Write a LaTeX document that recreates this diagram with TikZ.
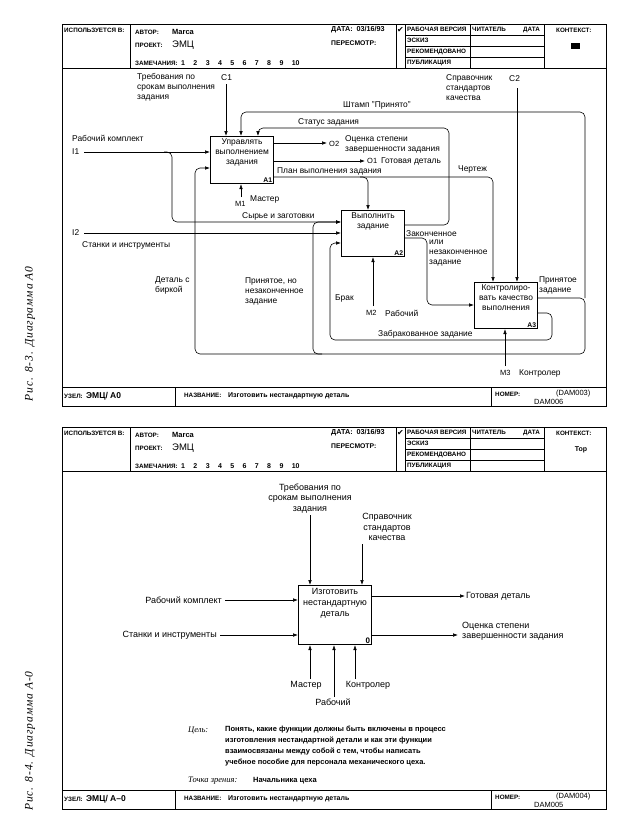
\documentclass[tikz,border=0pt]{standalone}
\usepackage{fontspec}
\setmainfont{Liberation Sans}
\newfontfamily\captfont{Liberation Serif}[LetterSpace=8]
\newfontfamily\notefont{Liberation Serif}
\newfontfamily\symfont{DejaVu Sans}
\usetikzlibrary{positioning}
\usetikzlibrary{arrows.meta}

\begin{document}
\begin{tikzpicture}[x=1pt,y=-1pt,>={Latex[length=5pt,width=3.6pt]}]
\tikzstyle{func}=[rectangle,draw,line width=1.1pt,anchor=north west,inner sep=0pt,
minimum width=63pt,minimum height=47pt]
\tikzstyle{fname}=[align=center,inner sep=0pt,font=\fontsize{8.4}{10}\selectfont]
\tikzstyle{fnum}=[anchor=south east,inner sep=1.8pt,font=\bfseries\fontsize{6.8}{7}\selectfont]
\tikzstyle{lbl}=[anchor=west,inner sep=0pt,align=left,font=\fontsize{8.4}{10}\selectfont]
\tikzstyle{lblb}=[anchor=west,inner sep=0pt,align=left,font=\fontsize{9}{10.5}\selectfont]
\tikzstyle{hd}=[anchor=west,inner sep=0pt,font=\bfseries\fontsize{6.3}{7}\selectfont]
\tikzstyle{frame}=[line width=0.8pt]
\tikzstyle{arr}=[->,line width=0.6pt]
\tikzstyle{loop}=[->,line width=0.6pt,rounded corners=5pt]
\useasboundingbox (0,0) rectangle (623,831);

% side captions
\node[rotate=90,inner sep=0pt,font=\captfont\itshape\fontsize{11.5}{12}\selectfont] (cap1) at (30,334) {Рис. 8-3. Диаграмма А0};
\node[rotate=90,inner sep=0pt,font=\captfont\itshape\fontsize{11.5}{12}\selectfont] (cap2) at (30,741) {Рис. 8-4. Диаграмма А-0};

% form of the A0 sheet
\begin{scope}
\draw[frame] (62,24) rectangle (606,406);
\draw[frame] (62,68) -- (606,68) (62,387) -- (606,387);
\draw[frame] (130,24) -- (130,68) (396,24) -- (396,68) (405,24) -- (405,68)
  (470,24) -- (470,68) (544,24) -- (544,68);
\draw (405,35) -- (544,35) (405,46) -- (544,46) (405,57) -- (544,57);
\draw[frame] (175,387) -- (175,406) (491,387) -- (491,406);
\node[hd] (usedA) at (64,30) {ИСПОЛЬЗУЕТСЯ В:};
\node[hd] (authorA) at (135,32) {АВТОР:};
\node[hd,font=\bfseries\fontsize{7.5}{8}\selectfont] (marcaA) at (172,32) {Marca};
\node[hd] (projA) at (135,45) {ПРОЕКТ:};
\node[hd,font=\fontsize{9.5}{10}\selectfont] (emcA) at (172,45.5) {ЭМЦ};
\node[hd] (notesA) at (135,63) {ЗАМЕЧАНИЯ:};
\node[hd,font=\bfseries\fontsize{7}{8}\selectfont] (numsA) at (181,63)
  {1\hspace{8.4pt}2\hspace{8.4pt}3\hspace{8.4pt}4\hspace{8.4pt}5\hspace{8.4pt}6\hspace{8.4pt}7\hspace{8.4pt}8\hspace{8.4pt}9\hspace{8.4pt}10};
\node[hd,font=\bfseries\fontsize{7.2}{8}\selectfont] (dateA) at (331,30) {ДАТА:\ \ 03/16/93};
\node[hd,font=\bfseries\fontsize{6.8}{8}\selectfont] (revA) at (331,43) {ПЕРЕСМОТР:};
\node[inner sep=0pt,font=\symfont\fontsize{8}{8}\selectfont] (checkA) at (400.5,30) {✔};
\node[hd] (wipA) at (407,29.5) {РАБОЧАЯ ВЕРСИЯ};
\node[hd] (draftA) at (407,40.5) {ЭСКИЗ};
\node[hd] (recA) at (407,51.5) {РЕКОМЕНДОВАНО};
\node[hd] (pubA) at (407,62.5) {ПУБЛИКАЦИЯ};
\node[hd] (readerA) at (472,29.5) {ЧИТАТЕЛЬ};
\node[hd] (rdateA) at (523,29.5) {ДАТА};
\node[hd] (ctxA) at (556,30) {КОНТЕКСТ:};
\node[fill=black,minimum width=9pt,minimum height=6.5pt,inner sep=0pt] (ctxboxA) at (575,46) {};
\node[hd] (nodeA) at (64,396) {УЗЕЛ:};
\node[hd,font=\bfseries\fontsize{8.5}{9}\selectfont] (nodenameA) at (86,396) {ЭМЦ/ А0};
\node[hd] (titleA) at (184,395) {НАЗВАНИЕ:};
\node[hd,font=\bfseries\fontsize{7}{8}\selectfont] (titletxtA) at (228,396) {Изготовить нестандартную деталь};
\node[hd] (numA) at (495,394) {НОМЕР:};
\node[hd,font=\fontsize{7.5}{8}\selectfont] (cnumA) at (556,394) {(DAM003)};
\node[hd,font=\fontsize{7.5}{8}\selectfont] (pnumA) at (534,402) {DAM006};
\end{scope}

% A0 diagram: boxes
\node[func] (A1) at (210,136) {};
\node[fname,below=3pt of A1.north] (A1t) {Управлять\\выполнением\\задания};
\node[fnum] (A1n) at (A1.south east) {A1};
\node[func,minimum height=46pt] (A2) at (341,210) {};
\node[fname,below=3pt of A2.north] (A2t) {Выполнить\\задание};
\node[fnum] (A2n) at (A2.south east) {A2};
\node[func,minimum height=46pt] (A3) at (474,282) {};
\node[fname,below=3pt of A3.north] (A3t) {Контролиро-\\вать качество\\выполнения};
\node[fnum] (A3n) at (A3.south east) {A3};

% A0 diagram: boundary arrows
\coordinate (c1) at (226,84);
\node[lbl] (c1l) at (221,78) {C1};
\node[lbl,anchor=north west] (c1t) at (137,73) {Требования по\\срокам выполнения\\задания};
\draw[arr] (c1) -- (c1 |- A1.north);
\coordinate (c2) at (517,88);
\node[lbl] (c2l) at (509,79) {C2};
\node[lbl,anchor=north west] (c2t) at (446,74) {Справочник\\стандартов\\качества};
\draw[arr] (c2) -- (c2 |- A3.north);
\coordinate (i1) at (84,152);
\node[lbl] (i1l) at (72,152) {I1};
\node[lbl] (i1t) at (72,138) {Рабочий комплект};
\draw[arr] (i1) -- (i1 -| A1.west);
\coordinate (i2) at (84,233);
\node[lbl] (i2l) at (72,233) {I2};
\node[lbl] (i2t) at (82,245) {Станки и инструменты};
\draw[arr] (i2) -- (i2 -| A2.west);
\coordinate (m1) at (241,197);
\node[lbl,font=\fontsize{7.5}{8}\selectfont] (m1l) at (235,204) {M1};
\node[lbl] (m1t) at (250,199) {Мастер};
\draw[arr] (m1) -- (m1 |- A1.south);
\coordinate (m2) at (373,306);
\node[lbl,font=\fontsize{7.5}{8}\selectfont] (m2l) at (366,313) {M2};
\node[lbl] (m2t) at (385,313) {Рабочий};
\draw[arr] (m2) -- (m2 |- A2.south);
\coordinate (m3) at (505,366);
\node[lbl,font=\fontsize{7.5}{8}\selectfont] (m3l) at (500,373) {M3};
\node[lbl] (m3t) at (519,373) {Контролер};
\draw[arr] (m3) -- (m3 |- A3.south);
\coordinate (o2) at (327,143);
\node[lbl,font=\fontsize{7.5}{8}\selectfont] (o2l) at (329,144) {O2};
\node[lbl,anchor=north west] (o2t) at (345,135) {Оценка степени\\завершенности задания};
\draw[arr] (o2 -| A1.east) -- (o2);
\coordinate (o1) at (365,161);
\node[lbl,font=\fontsize{7.5}{8}\selectfont] (o1l) at (367,161) {O1};
\node[lbl] (o1t) at (381,161) {Готовая деталь};
\draw[arr] (o1 -| A1.east) -- (o1);

% A0 diagram: internal arrows
\draw[loop] (A1.east |- 0,177) -| (368,0 |- A2.north);
\draw[loop] (360,177) -| (493,0 |- A3.north);
\node[lbl,anchor=south west] (plan) at (277,175) {План выполнения задания};
\node[lbl] (draw) at (458,169) {Чертеж};
\draw[loop] (164,152) -| (172,222) -- (A2.west |- 0,222);
\node[lbl,anchor=south west] (raw) at (242,220) {Сырье и заготовки};
\draw[loop] (A2.east |- 0,225) -| (449,128) -| (258,0 |- A1.north);
\node[lbl] (stat) at (298,122) {Статус задания};
\draw[loop] (585,298) |- (241,112) -- (241,0 |- A1.north);
\node[lbl] (stamp) at (343,105) {Штамп "Принято"};
\draw[loop] (A3.east |- 0,298) -| (585,354) -| (195,168) -- (A1.west |- 0,168);
\draw[loop] (322,354) -| (313,222) -- (A2.west |- 0,222);
\node[lbl,anchor=north west] (acc) at (539,277) {Принятое\\задание};
\node[lbl,anchor=north west] (tag) at (155,277) {Деталь с\\биркой};
\node[lbl,anchor=north west] (part) at (245,278) {Принятое, но\\незаконченное\\задание};
\draw[loop] (A2.east |- 0,238) -| (427,305) -- (A3.west |- 0,305);
\node[lbl,anchor=south west] (done) at (406,236.5) {Законченное};
\node[lbl,anchor=north west] (done2) at (429,240) {или\\незаконченное\\задание};
\draw[loop] (A3.east |- 0,313) -| (552,340) -| (330,243) -- (A2.west |- 0,243);
\node[lbl,anchor=south west] (rej) at (378,338) {Забракованное задание};
\node[lbl] (scrap) at (335,298) {Брак};

% form of the A-0 sheet
\begin{scope}[yshift=-403pt]
\draw[frame] (62,24) rectangle (606,406);
\draw[frame] (62,68) -- (606,68) (62,387) -- (606,387);
\draw[frame] (130,24) -- (130,68) (396,24) -- (396,68) (405,24) -- (405,68)
  (470,24) -- (470,68) (544,24) -- (544,68);
\draw (405,35) -- (544,35) (405,46) -- (544,46) (405,57) -- (544,57);
\draw[frame] (175,387) -- (175,406) (491,387) -- (491,406);
\node[hd] (usedB) at (64,30) {ИСПОЛЬЗУЕТСЯ В:};
\node[hd] (authorB) at (135,32) {АВТОР:};
\node[hd,font=\bfseries\fontsize{7.5}{8}\selectfont] (marcaB) at (172,32) {Marca};
\node[hd] (projB) at (135,45) {ПРОЕКТ:};
\node[hd,font=\fontsize{9.5}{10}\selectfont] (emcB) at (172,45.5) {ЭМЦ};
\node[hd] (notesB) at (135,63) {ЗАМЕЧАНИЯ:};
\node[hd,font=\bfseries\fontsize{7}{8}\selectfont] (numsB) at (181,63)
  {1\hspace{8.4pt}2\hspace{8.4pt}3\hspace{8.4pt}4\hspace{8.4pt}5\hspace{8.4pt}6\hspace{8.4pt}7\hspace{8.4pt}8\hspace{8.4pt}9\hspace{8.4pt}10};
\node[hd,font=\bfseries\fontsize{7.2}{8}\selectfont] (dateB) at (331,30) {ДАТА:\ \ 03/16/93};
\node[hd,font=\bfseries\fontsize{6.8}{8}\selectfont] (revB) at (331,43) {ПЕРЕСМОТР:};
\node[inner sep=0pt,font=\symfont\fontsize{8}{8}\selectfont] (checkB) at (400.5,30) {✔};
\node[hd] (wipB) at (407,29.5) {РАБОЧАЯ ВЕРСИЯ};
\node[hd] (draftB) at (407,40.5) {ЭСКИЗ};
\node[hd] (recB) at (407,51.5) {РЕКОМЕНДОВАНО};
\node[hd] (pubB) at (407,62.5) {ПУБЛИКАЦИЯ};
\node[hd] (readerB) at (472,29.5) {ЧИТАТЕЛЬ};
\node[hd] (rdateB) at (523,29.5) {ДАТА};
\node[hd] (ctxB) at (556,30) {КОНТЕКСТ:};
\node[hd,anchor=center,font=\bfseries\fontsize{7}{8}\selectfont] (topB) at (581,47) {Top};
\node[hd] (nodeB) at (64,396) {УЗЕЛ:};
\node[hd,font=\bfseries\fontsize{8.5}{9}\selectfont] (nodenameB) at (86,396) {ЭМЦ/ А–0};
\node[hd] (titleB) at (184,395) {НАЗВАНИЕ:};
\node[hd,font=\bfseries\fontsize{7}{8}\selectfont] (titletxtB) at (228,396) {Изготовить нестандартную деталь};
\node[hd] (numB) at (495,394) {НОМЕР:};
\node[hd,font=\fontsize{7.5}{8}\selectfont] (cnumB) at (556,394) {(DAM004)};
\node[hd,font=\fontsize{7.5}{8}\selectfont] (pnumB) at (534,402) {DAM005};
\end{scope}

% A-0 diagram
\node[func,minimum width=73pt,minimum height=59pt] (A0) at (298,585) {};
\node[fname,font=\fontsize{9}{11}\selectfont,below=3pt of A0.north] (A0t) {Изготовить\\нестандартную\\деталь};
\node[fnum,font=\bfseries\fontsize{8}{8}\selectfont] (A0n) at (A0.south east) {0};
\coordinate (ctl1) at (310,515);
\node[lblb,anchor=south,align=center,above=2pt of ctl1] (ctl1t) {Требования по\\срокам выполнения\\задания};
\draw[arr] (ctl1) -- (ctl1 |- A0.north);
\coordinate (ctl2) at (362,544);
\node[lblb,anchor=south,align=center] (ctl2t) at (387,541) {Справочник\\стандартов\\качества};
\draw[arr] (ctl2) -- (ctl2 |- A0.north);
\node[lblb,anchor=east] (in1) at (222,600) {Рабочий комплект};
\draw[arr,shorten <=3pt] (in1.east) -- (in1.east -| A0.west);
\node[lblb,anchor=east] (in2) at (217,635) {Станки и инструменты};
\draw[arr,shorten <=3pt] (in2.east) -- (in2.east -| A0.west);
\coordinate (out1) at (465,596);
\node[lblb] (out1t) at (466,596) {Готовая деталь};
\draw[arr] (out1 -| A0.east) -- (out1);
\coordinate (out2) at (458,635);
\node[lblb,anchor=north west] (out2t) at (462,622) {Оценка степени\\завершенности задания};
\draw[arr] (out2 -| A0.east) -- (out2);
\coordinate (mec1) at (310,679);
\node[lblb,anchor=north] (mec1t) at (306,681) {Мастер};
\draw[arr] (mec1) -- (mec1 |- A0.south);
\coordinate (mec2) at (334,697);
\node[lblb,anchor=north] (mec2t) at (333,699) {Рабочий};
\draw[arr] (mec2) -- (mec2 |- A0.south);
\coordinate (mec3) at (355,679);
\node[lblb,anchor=north] (mec3t) at (368,681) {Контролер};
\draw[arr] (mec3) -- (mec3 |- A0.south);
\node[anchor=west,inner sep=0pt,font=\notefont\itshape\fontsize{8.5}{9}\selectfont] (goal) at (188,731) {Цель:};
\node[anchor=north west,align=left,inner sep=0pt,font=\bfseries\fontsize{7.5}{11}\selectfont] (goaltxt) at (225,726)
  {Понять, какие функции должны быть включены в процесс\\изготовления нестандартной детали и как эти функции\\взаимосвязаны между собой с тем, чтобы написать\\учебное пособие для персонала механического цеха.};
\node[anchor=west,inner sep=0pt,font=\notefont\itshape\fontsize{8.5}{9}\selectfont] (view) at (188,781) {Точка зрения:};
\node[anchor=west,inner sep=0pt,font=\bfseries\fontsize{7.5}{9}\selectfont] (viewtxt) at (253,781) {Начальника цеха};
\end{tikzpicture}
\end{document}
